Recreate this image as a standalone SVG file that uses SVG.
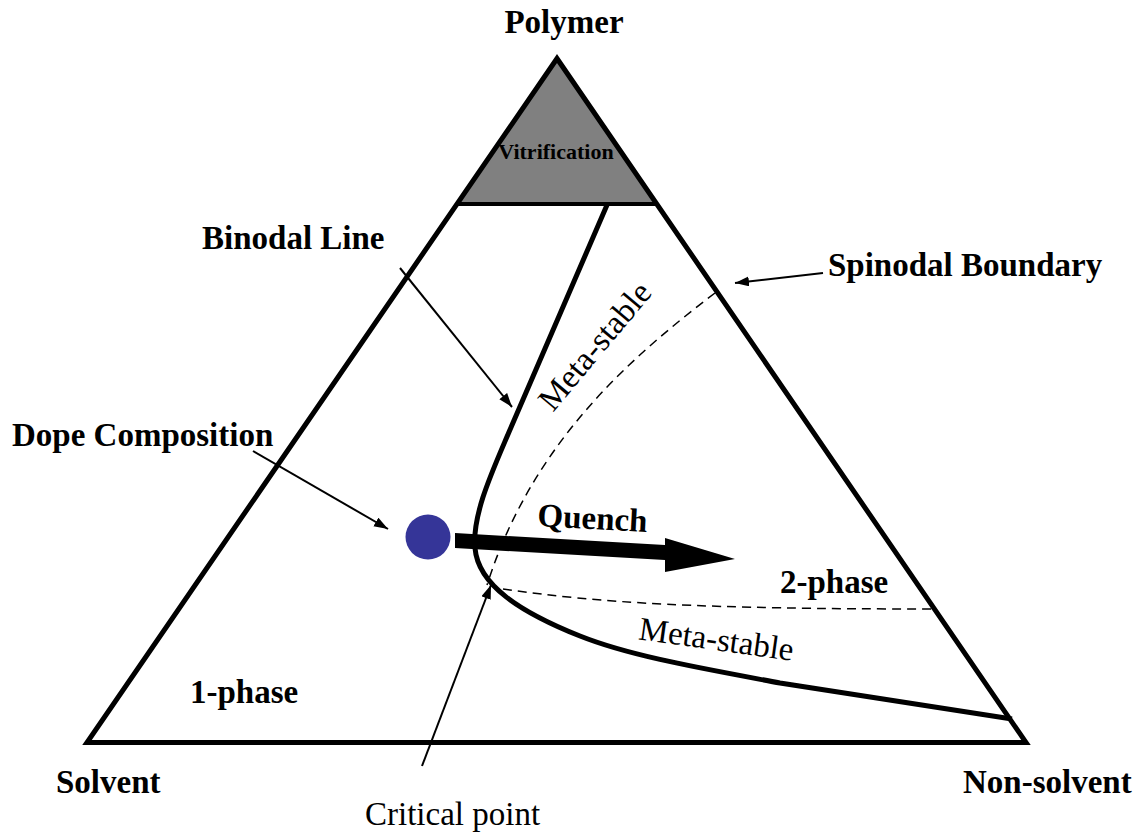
<svg xmlns="http://www.w3.org/2000/svg" width="1146" height="836" viewBox="0 0 1146 836">
<style>
text{font-family:"Liberation Serif","Times New Roman",serif;fill:#000}
.b{font-weight:bold;font-size:33px}
.r{font-size:33px}
.ptr{stroke:#000;stroke-width:2;fill:none}
.dash{stroke:#000;stroke-width:1.5;fill:none;stroke-dasharray:9 6}
</style>
<defs>
<marker id="ah" markerUnits="userSpaceOnUse" markerWidth="16" markerHeight="12" refX="14" refY="5" orient="auto">
<path d="M0,0 L14,5 L0,10 z" fill="#000"/>
</marker>
</defs>
<rect width="1146" height="836" fill="#fff"/>
<g id="vitrification">
<polygon points="557,58.5 457,204 656.5,204" fill="#808080"/>
<line x1="457" y1="204" x2="656.5" y2="204" stroke="#000" stroke-width="4"/>
<text x="556" y="159" text-anchor="middle" style="font-weight:bold;font-size:22px">Vitrification</text>
</g>
<g id="triangle">
<polygon points="557,58.5 87,742.5 1026,742.5" fill="none" stroke="#000" stroke-width="5" stroke-linejoin="miter"/>
</g>
<g id="binodal">
<path d="M607,205 L509,432 C492,472 472,515 475,548 C478,585 520,612 580,636 C630,656 700,668 780,683 L1012,719" fill="none" stroke="#000" stroke-width="5"/>
</g>
<g id="spinodal">
<path class="dash" d="M715,293 C620,365 530,450 487,585"/>
<path class="dash" d="M503,589 C600,603 700,609 932,609"/>
</g>
<g id="dope">
<circle cx="428" cy="537" r="22.5" fill="#353598"/>
</g>
<g id="quench">
<polygon points="455,533 665,545 665,538 735,559 665,572 665,560 455,548" fill="#000"/>
<text class="b" x="592" y="529" text-anchor="middle" transform="rotate(3 592 529)">Quench</text>
</g>
<g id="connectors">
<line class="ptr" x1="400" y1="268" x2="512" y2="407" marker-end="url(#ah)"/>
<line class="ptr" x1="823" y1="273" x2="735" y2="283" marker-end="url(#ah)"/>
<line class="ptr" x1="253" y1="451" x2="388" y2="529" marker-end="url(#ah)"/>
<line class="ptr" x1="422" y1="766" x2="491" y2="585" marker-end="url(#ah)"/>
</g>
<g id="labels">
<text class="b" x="564" y="33" text-anchor="middle">Polymer</text>
<text class="b" x="202" y="249">Binodal Line</text>
<text class="b" x="828" y="276">Spinodal Boundary</text>
<text class="b" x="12" y="446">Dope Composition</text>
<text class="r" x="603" y="353" text-anchor="middle" transform="rotate(-50 603 353)">Meta-stable</text>
<text class="b" x="780" y="593">2-phase</text>
<text class="r" x="715" y="650" text-anchor="middle" transform="rotate(8 715 650)">Meta-stable</text>
<text class="b" x="190" y="703">1-phase</text>
<text class="b" x="56" y="793">Solvent</text>
<text class="b" x="963" y="793">Non-solvent</text>
<text class="r" x="365" y="825">Critical point</text>
</g>
</svg>
